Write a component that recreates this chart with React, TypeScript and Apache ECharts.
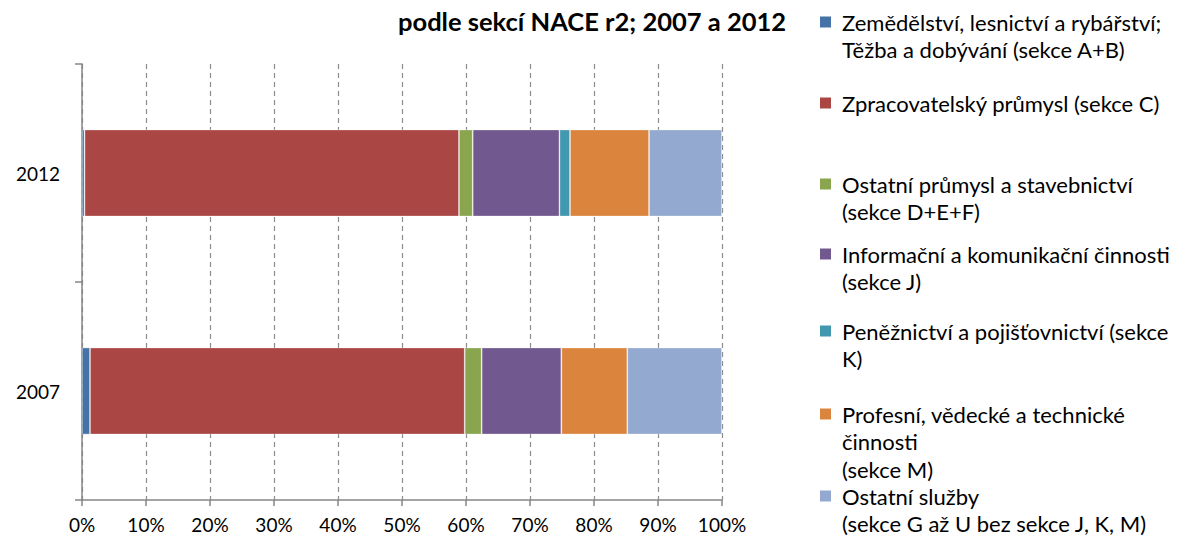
import React, { useEffect, useRef } from "react";
import * as echarts from "echarts";

const categories = ["2007", "2012"];
const seriesNames = [
  "Zemědělství, lesnictví a rybářství;\nTěžba a dobývání (sekce A+B)",
  "Zpracovatelský průmysl (sekce C)",
  "Ostatní průmysl a stavebnictví\n(sekce D+E+F)",
  "Informační a komunikační činnosti\n(sekce J)",
  "Peněžnictví a pojišťovnictví (sekce\nK)",
  "Profesní, vědecké a technické\nčinnosti\n(sekce M)",
  "Ostatní služby\n(sekce G až U bez sekce J, K, M)",
];
// values in % for [2007, 2012]
const agriculture = [1.25, 0.4];
const manufacturing = [58.55, 58.5];
const otherIndustry = [2.65, 2.15];
const ict = [12.45, 13.55];
const finance = [0, 1.65];
const professional = [10.3, 12.35];
const otherServices = [14.8, 11.4];
const seriesValues = [agriculture, manufacturing, otherIndustry, ict, finance, professional, otherServices];
const xTicks = [0, 10, 20, 30, 40, 50, 60, 70, 80, 90, 100];
const titleText = "podle sekcí NACE r2; 2007 a 2012";

const colors = ["#4572A7", "#AA4643", "#89A54E", "#71588F", "#4198AF", "#DB843D", "#93A9CF"];
const legendFirstLineY = [22, 103, 184, 254, 331, 414, 496];
const FONT = "Lato, 'Open Sans', sans-serif";

export default function App() {
  const ref = useRef<HTMLDivElement>(null);
  useEffect(() => {
    document.body.style.margin = "0";
    if (!ref.current) return;
    const chart = echarts.init(ref.current, null, { renderer: "svg" });
    const lineH = 27.5;
    const legendGraphics: any[] = [];
    seriesNames.forEach((name, i) => {
      const y = legendFirstLineY[i];
      legendGraphics.push({
        type: "rect",
        shape: { x: 820, y: y - 5.5, width: 11, height: 11 },
        style: { fill: colors[i] },
      });
      legendGraphics.push({
        type: "text",
        x: 842,
        y: y - lineH / 2,
        style: {
          text: name,
          fill: "#000",
          font: `22px ${FONT}`,
          lineHeight: lineH,
          verticalAlign: "top",
          align: "left",
        },
      });
    });

    chart.setOption({
      animation: false,
      textStyle: { fontFamily: FONT },
      title: {
        text: titleText,
        left: 393,
        top: 3,
        textStyle: { fontFamily: FONT, fontWeight: "bold", fontSize: 25.5, color: "#000" },
      },
      grid: { left: 82, right: 456, top: 64, bottom: 40, containLabel: false },
      xAxis: {
        type: "value",
        min: xTicks[0],
        max: xTicks[xTicks.length - 1],
        interval: 10,
        axisLine: { show: true, lineStyle: { color: "#868686", width: 1.5 } },
        axisTick: { show: true, length: 6, lineStyle: { color: "#868686", width: 1.5 } },
        axisLabel: {
          formatter: (v: number) => `${v}%`,
          fontSize: 19,
          color: "#000",
          margin: 15,
          fontFamily: FONT,
        },
        splitLine: {
          show: true,
          lineStyle: { color: "#8c8c8c", type: [5, 4], width: 1.2 },
        },
      },
      yAxis: {
        type: "category",
        data: categories,
        axisLine: { show: true, lineStyle: { color: "#868686", width: 1.5 } },
        axisTick: { show: true, length: 7, lineStyle: { color: "#868686", width: 1.5 } },
        axisLabel: { fontSize: 19, color: "#000", margin: 22, fontFamily: FONT },
      },
      series: seriesValues.map((vals, i) => ({
        name: seriesNames[i],
        type: "bar",
        stack: "total",
        barWidth: 87,
        data: vals,
        itemStyle: { color: colors[i], borderColor: "rgba(255,255,255,0.45)", borderWidth: 0.8 },
      })),
      graphic: legendGraphics,
    });
    return () => chart.dispose();
  }, []);
  return <div ref={ref} style={{ width: 1178, height: 540 }} />;
}
